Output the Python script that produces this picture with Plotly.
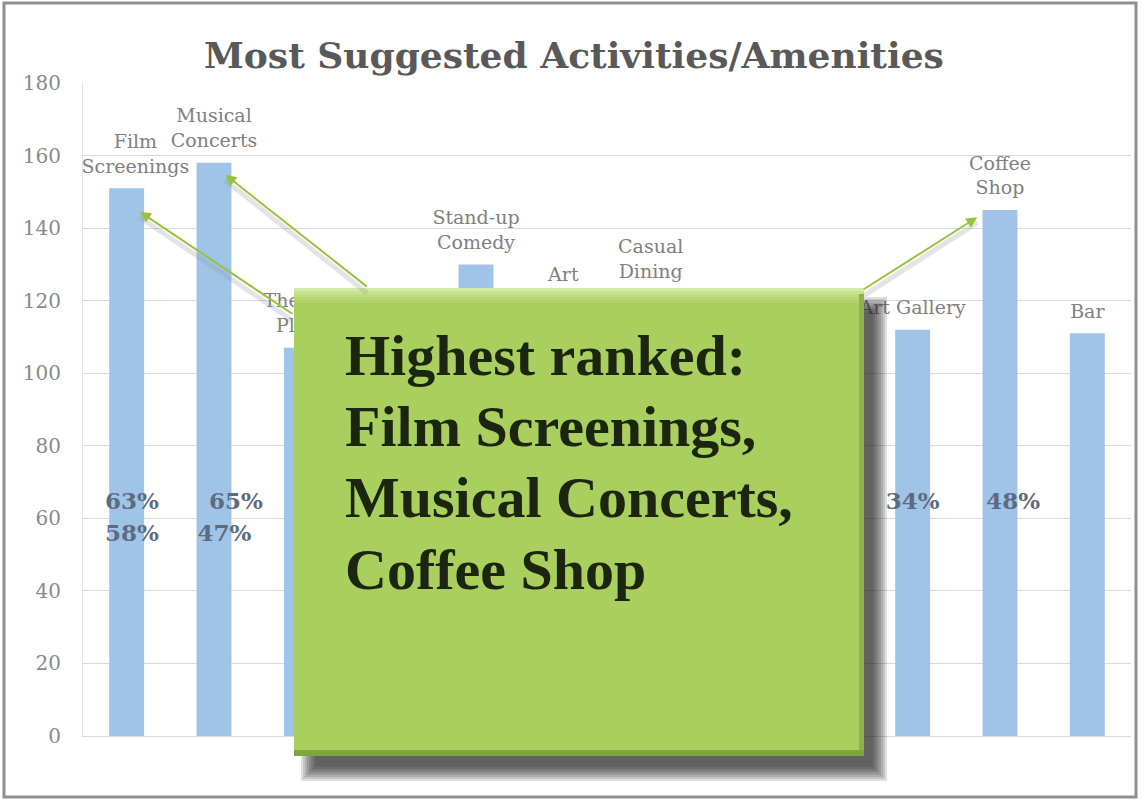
import plotly.graph_objects as go

# ---------------- data ----------------
categories = ["Film<br>Screenings", "Musical<br>Concerts", "Theatre<br>Plays", "Dance",
              "Stand-up<br>Comedy", "Art", "Casual<br>Dining", "Fine<br>Dining", "Museum",
              "Art Gallery", "Coffee<br>Shop", "Bar"]
values = [151, 158, 107, 100, 130, 121, 122, 96, 99, 112, 145, 111]
label_shown = [True, True, True, False, True, True, True, False, False, True, True, True]
y_ticks = [0, 20, 40, 60, 80, 100, 120, 140, 160, 180]

pct_category = [0, 0, 1, 1, 9, 10]
pct_text = ["63%", "58%", "65%", "47%", "34%", "48%"]

highlight = [0, 1, 10]   # Film Screenings, Musical Concerts, Coffee Shop
title_text = "Most Suggested Activities/Amenities"
box_lines = ["Highest ranked:", "Film Screenings,", "Musical Concerts,", "Coffee Shop"]

# ---------------- layout helpers ----------------
W, H = 1145, 800
ML, MR, MT, MB = 83, 14, 83, 64
PW, PH = W - ML - MR, H - MT - MB


def px(x):
    return (x - ML) / PW


def py(y):
    return (H - MB - y) / PH


label_dx = [0.1, 0, 0, 0, 0, 0, 0, 0, 0, 0, 0, 0]
pct_dx = [0.06, 0.06, 0.25, 0.12, 0.0, 0.15]
pct_y = [64.2, 55.4, 64.2, 55.4, 64.2, 64.2]

idx = list(range(len(categories)))
lab_idx = [i for i in idx if label_shown[i]]

fig = go.Figure()
fig.add_trace(go.Bar(
    x=idx, y=values, width=0.4,
    marker=dict(color="#9fc4e7", line=dict(width=0)),
    hoverinfo="skip", showlegend=False,
))
fig.add_trace(go.Scatter(
    x=[i + label_dx[i] for i in lab_idx], y=[values[i] + 3 for i in lab_idx],
    mode="text", text=[categories[i] for i in lab_idx], textposition="top center",
    textfont=dict(family="DejaVu Serif", size=19, color="#808080"),
    cliponaxis=False, hoverinfo="skip", showlegend=False,
))
fig.add_trace(go.Scatter(
    x=[c + d for c, d in zip(pct_category, pct_dx)], y=pct_y,
    mode="text", text=pct_text, textposition="middle center",
    textfont=dict(family="DejaVu Serif", size=23, color="#5d6b80", weight="bold"),
    cliponaxis=False, hoverinfo="skip", showlegend=False,
))

shapes = []
# outer frame
shapes.append(dict(type="rect", xref="paper", yref="paper", x0=px(4), x1=px(1136), y0=py(797), y1=py(3),
                   line=dict(color="#8f8f8f", width=3), fillcolor="rgba(0,0,0,0)", layer="below"))

# green call-out box
bx0, bx1, by0, by1 = 294, 864, 288, 756
sdx, sdy = 15, 17
for k in range(8):
    ins = k * 2
    shapes.append(dict(type="rect", xref="paper", yref="paper",
                       x0=px(bx0 + sdx - 8 + ins), x1=px(bx1 + sdx + 8 - ins),
                       y0=py(by1 + sdy + 8 - ins), y1=py(by0 + sdy - 8 + ins),
                       line=dict(width=0), fillcolor="rgba(35,35,35,0.14)", layer="above"))
shapes.append(dict(type="rect", xref="paper", yref="paper", x0=px(bx0), x1=px(bx1), y0=py(by1), y1=py(by0),
                   line=dict(width=0), fillcolor="#a9cf5e", layer="above"))
top_cols = ["#d4eaa8", "#c8e392", "#bedd80", "#b5d772", "#aed267"]
for k, c in enumerate(top_cols):
    shapes.append(dict(type="rect", xref="paper", yref="paper", x0=px(bx0), x1=px(bx1),
                       y0=py(by0 + 3 * k + 3), y1=py(by0 + 3 * k),
                       line=dict(width=0), fillcolor=c, layer="above"))
shapes.append(dict(type="rect", xref="paper", yref="paper", x0=px(bx1 - 5), x1=px(bx1), y0=py(by1), y1=py(by0 + 6),
                   line=dict(width=0), fillcolor="#8eb34a", layer="above"))
shapes.append(dict(type="rect", xref="paper", yref="paper", x0=px(bx0), x1=px(bx1), y0=py(by1), y1=py(by1 - 6),
                   line=dict(width=0), fillcolor="#80a53c", layer="above"))

annotations = []
annotations.append(dict(xref="paper", yref="paper", x=px(574), y=py(55), xanchor="center", yanchor="middle",
                        text="<b>" + title_text + "</b>", showarrow=False,
                        font=dict(family="DejaVu Serif", size=36, color="#595959")))
line_y = [355, 426, 497, 569]
for t, yy in zip(box_lines, line_y):
    annotations.append(dict(xref="paper", yref="paper", x=px(343), y=py(yy), xanchor="left", yanchor="middle",
                            align="left", text="<b>" + t + "</b>", showarrow=False,
                            font=dict(family="Liberation Serif", size=58, color="#1b250f")))

# arrows from the box to the highlighted bars
head_dx = [0.15, 0.13, -0.26]
head_dy = [6.5, 3.3, 2.0]
tail_ax = [154, 143, -115]
tail_ay = [103, 113, 73]
for c, dx, dy, ax, ay in zip(highlight, head_dx, head_dy, tail_ax, tail_ay):
    annotations.append(dict(x=c + dx, y=values[c] - dy - 1.5, xref="x", yref="y", ax=ax, ay=ay + 1, text="",
                            showarrow=True, arrowhead=0, arrowwidth=5, arrowcolor="rgba(150,150,150,0.25)"))
    annotations.append(dict(x=c + dx, y=values[c] - dy, xref="x", yref="y", ax=ax, ay=ay, text="",
                            showarrow=True, arrowhead=2, arrowsize=1.1, arrowwidth=2, arrowcolor="#98c23f"))

fig.update_layout(
    width=W, height=H, margin=dict(l=ML, r=MR, t=MT, b=MB),
    paper_bgcolor="white", plot_bgcolor="white",
    shapes=shapes, annotations=annotations, bargap=0.6,
    xaxis=dict(range=[-0.5, len(categories) - 0.5], showticklabels=False, showgrid=False,
               zeroline=False, showline=True, linecolor="#d9d9d9", linewidth=1, fixedrange=True),
    yaxis=dict(range=[0, 180], tickvals=y_ticks, ticktext=[str(t) for t in y_ticks],
               showgrid=True, gridcolor="#d9d9d9", gridwidth=1, zeroline=False,
               showline=True, linecolor="#e3e3e3", linewidth=1, ticks="", ticklabelstandoff=17,
               tickfont=dict(family="DejaVu Serif", size=20, color="#8a8a8a"), fixedrange=True),
)

fig.write_html("out.html")
